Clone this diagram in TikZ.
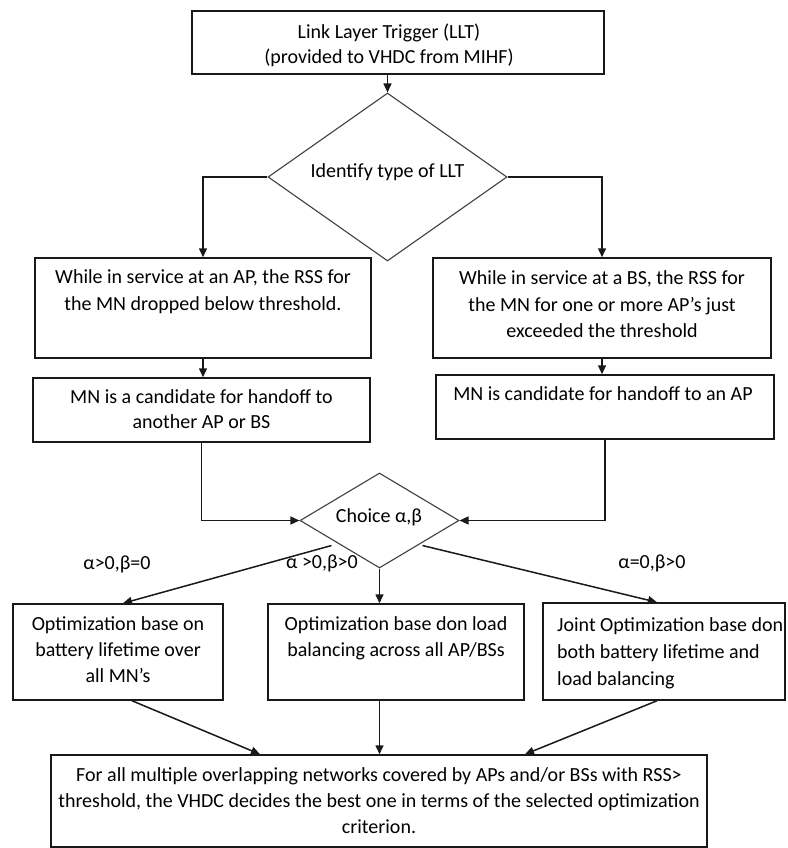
\documentclass[tikz,border=0pt]{standalone}
\usepackage{fontspec}
\setmainfont{Carlito}
\usetikzlibrary{shapes.geometric,arrows.meta,calc}
\newcommand\bodyfont[1]{\fontsize{20}{#1}\selectfont}
\begin{document}
\begin{tikzpicture}[x=1pt,y=-1pt,
  box/.style={draw=black!90, line width=1.5pt, inner sep=0pt},
  decision/.style={diamond, draw=black!75, line width=1.1pt, inner sep=0pt},
  txt/.style={align=center, inner sep=0pt, anchor=north, yshift=8.5pt,
    execute at begin node={\rule{0pt}{15pt}}, font=\bodyfont{26}},
  txtleft/.style={txt, align=left, anchor=north west},
  lbl/.style={inner sep=0pt, font=\bodyfont{24}},
  arr/.style={draw=black!90, line width=1.5pt, -{Triangle[length=9pt,width=8pt]}},
]
% canvas
\fill[white] (0,0) rectangle (787,848);

% --- boxes and decisions ---
\node[box, minimum width=412pt, minimum height=63pt] (llt) at (398,42.5) {};
\node[txt, font=\bodyfont{25}] (lltText) at (389,32)
  {Link Layer Trigger (LLT)\\(provided to VHDC from MIHF)};

\node[decision, minimum width=239pt, minimum height=168pt] (identify) at (387.5,177) {};
\node[lbl] (identifyText) at (387.5,172) {Identify type of LLT};

\node[box, minimum width=336pt, minimum height=100pt] (inAP) at (203,308) {};
\node[txt, font=\bodyfont{27}] (inAPText) at (203,278)
  {While in service at an AP, the RSS for\\the MN dropped below threshold.};

\node[box, minimum width=338pt, minimum height=100pt] (inBS) at (602,308) {};
\node[txt, font=\bodyfont{26.5}] (inBSText) at (602,279)
  {While in service at a BS, the RSS for\\the MN for one or more AP’s just\\exceeded the threshold};

\node[box, minimum width=337pt, minimum height=64pt] (candAP) at (201.5,410) {};
\node[txt, font=\bodyfont{25}] (candAPText) at (201.5,398)
  {MN is a candidate for handoff to\\another AP or BS};

\node[box, minimum width=338pt, minimum height=64pt] (candBS) at (605,407) {};
\node[txt] (candBSText) at (603,394) {MN is candidate for handoff to an AP};

\node[decision, minimum width=159pt, minimum height=95pt] (choice) at (379.5,520.5) {};
\node[lbl] (choiceText) at (379,517) {Choice α,β};

\node[lbl] (condBat) at (117,564) {α>0,β=0};
\node[lbl] (condLoad) at (322,563) {α >0,β>0};
\node[lbl] (condJoint) at (652,563) {α=0,β>0};

\node[box, minimum width=210pt, minimum height=96pt] (optBat) at (118,652) {};
\node[txt] (optBatText) at (118,625)
  {Optimization base on\\battery lifetime over\\all MN’s};

\node[box, minimum width=256pt, minimum height=96pt] (optLoad) at (396,652) {};
\node[txt] (optLoadText) at (396,625)
  {Optimization base don load\\balancing across all AP/BSs};

\node[box, minimum width=242pt, minimum height=97pt] (optJoint) at (664,651.5) {};
\node[txtleft, font=\bodyfont{27}] (optJointText) at (557,626)
  {Joint Optimization base don\\both battery lifetime and\\load balancing};

\node[box, minimum width=656pt, minimum height=92pt] (decide) at (379,801) {};
\node[txt] (decideText) at (379,776)
  {For all multiple overlapping networks covered by APs and/or BSs with RSS>\\threshold, the VHDC decides the best one in terms of the selected optimization\\criterion.};

% --- connectors ---
\draw[arr] (llt.south -| identify.north) -- (identify.north);
\draw[arr] (identify.west) -| (inAP.north);
\draw[arr] (identify.east) -| (inBS.north);
\draw[arr] (inAP.south) -- (inAP.south |- candAP.north);
\draw[arr] (inBS.south) -- (inBS.south |- candBS.north);
\draw[arr] (candAP.south) |- (choice.west);
\draw[arr] (candBS.south) |- (choice.east);

\draw[arr] ([xshift=-8pt,yshift=-1pt]choice.south west) -- ([xshift=5pt]optBat.north);
\draw[arr] (choice.south) -- (choice.south |- optLoad.north);
\draw[arr] ([xshift=3pt,yshift=-1pt]choice.south east) -- ([xshift=-7pt]optJoint.north);

\coordinate (inBat) at ([xshift=-119pt]decide.north);
\coordinate (inLoad) at (choice.south |- decide.north);
\coordinate (inJoint) at ([xshift=146pt]decide.north);
\draw[arr] ([xshift=14pt]optBat.south) -- (inBat);
\draw[arr] (choice.south |- optLoad.south) -- (inLoad);
\draw[arr] ([xshift=-7pt]optJoint.south) -- (inJoint);
\end{tikzpicture}
\end{document}
